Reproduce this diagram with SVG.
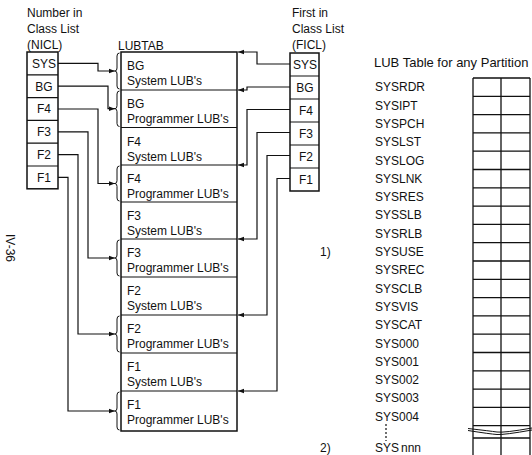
<svg xmlns="http://www.w3.org/2000/svg" width="532" height="455" viewBox="0 0 532 455">
<defs>
<style>
text{font-family:"Liberation Sans","DejaVu Sans",sans-serif;font-size:12px;fill:#111}
.box{fill:none;stroke:#111;stroke-width:1.5}
.ln{fill:none;stroke:#111;stroke-width:1.2}
.br{fill:none;stroke:#111;stroke-width:1}
.c{text-anchor:middle}
.g{fill:none;stroke:#111;stroke-width:1.3}
</style>
<marker id="ar" markerWidth="6" markerHeight="6" refX="6" refY="3" orient="auto" markerUnits="userSpaceOnUse">
<path d="M0,0.8 L6,3 L0,5.2 Z" fill="#111"/>
</marker>
</defs>
<rect width="532" height="455" fill="#fff"/>

<g id="nicl">
<text x="27" y="17">Number in</text>
<text x="27" y="33">Class List</text>
<text x="27" y="49">(NICL)</text>
<rect class="box" x="27" y="52" width="31" height="136.8"/>
<path class="ln" d="M27,74.8H58M27,97.6H58M27,120.4H58M27,143.2H58M27,166H58"/>
<text class="c" x="44" y="67.7">SYS</text>
<text class="c" x="44" y="90.5">BG</text>
<text class="c" x="44" y="113.3">F4</text>
<text class="c" x="44" y="136.1">F3</text>
<text class="c" x="44" y="158.9">F2</text>
<text class="c" x="44" y="181.7">F1</text>
</g>

<g id="ficl">
<text x="292" y="17">First in</text>
<text x="292" y="33">Class List</text>
<text x="292" y="49">(FICL)</text>
<rect class="box" x="290" y="53" width="29" height="138"/>
<path class="ln" d="M290,76H319M290,99H319M290,122H319M290,145H319M290,168H319"/>
<text class="c" x="305" y="68.8">SYS</text>
<text class="c" x="305" y="91.8">BG</text>
<text class="c" x="306" y="114.8">F4</text>
<text class="c" x="306" y="137.8">F3</text>
<text class="c" x="306" y="160.8">F2</text>
<text class="c" x="306" y="183.8">F1</text>
</g>

<g id="lubtab">
<text x="118" y="50">LUBTAB</text>
<rect class="box" x="121" y="52" width="116" height="379"/>
<path class="ln" d="M121,90H237M121,127.5H237M121,165H237M121,202H237M121,239H237M121,277H237M121,315H237M121,353H237M121,391H237"/>
<text x="127" y="70">BG</text><text x="127" y="85">System LUB's</text>
<text x="127" y="108">BG</text><text x="127" y="123">Programmer LUB's</text>
<text x="127" y="145.5">F4</text><text x="127" y="160.5">System LUB's</text>
<text x="127" y="183">F4</text><text x="127" y="198">Programmer LUB's</text>
<text x="127" y="220">F3</text><text x="127" y="235">System LUB's</text>
<text x="127" y="257">F3</text><text x="127" y="272">Programmer LUB's</text>
<text x="127" y="295">F2</text><text x="127" y="310">System LUB's</text>
<text x="127" y="333">F2</text><text x="127" y="348">Programmer LUB's</text>
<text x="127" y="371">F1</text><text x="127" y="386">System LUB's</text>
<text x="127" y="409">F1</text><text x="127" y="424">Programmer LUB's</text>
<path class="br" d="M119.5,53 q-2.5,0 -2.5,3 V68 q0,3 -2,3 q2,0 2,3 V86 q0,3 2.5,3"/>
<path class="br" d="M119.5,91 q-2.5,0 -2.5,3 V105.7 q0,3 -2,3 q2,0 2,3 V123.5 q0,3 2.5,3"/>
<path class="br" d="M119.5,166 q-2.5,0 -2.5,3 V180.5 q0,3 -2,3 q2,0 2,3 V198 q0,3 2.5,3"/>
<path class="br" d="M119.5,240 q-2.5,0 -2.5,3 V255 q0,3 -2,3 q2,0 2,3 V273 q0,3 2.5,3"/>
<path class="br" d="M119.5,316 q-2.5,0 -2.5,3 V331 q0,3 -2,3 q2,0 2,3 V349 q0,3 2.5,3"/>
<path class="br" d="M119.5,392 q-2.5,0 -2.5,3 V408 q0,3 -2,3 q2,0 2,3 V427 q0,3 2.5,3"/>
</g>

<g id="connectors">
<path class="ln" marker-end="url(#ar)" d="M58,63.4H98V71H115"/>
<path class="ln" marker-end="url(#ar)" d="M58,86.2H108V108.7H115"/>
<path class="ln" marker-end="url(#ar)" d="M58,109H98V183.5H115"/>
<path class="ln" marker-end="url(#ar)" d="M58,131.8H88V258H115"/>
<path class="ln" marker-end="url(#ar)" d="M58,154.6H78V334H115"/>
<path class="ln" marker-end="url(#ar)" d="M58,177.4H68V411H115"/>
<path class="ln" marker-end="url(#ar)" d="M290,64H257V52H238"/>
<path class="ln" marker-end="url(#ar)" d="M290,87H247V90H238"/>
<path class="ln" marker-end="url(#ar)" d="M290,109.5H247V165H238"/>
<path class="ln" marker-end="url(#ar)" d="M290,132.5H257V239H238"/>
<path class="ln" marker-end="url(#ar)" d="M290,155.5H267V315H238"/>
<path class="ln" marker-end="url(#ar)" d="M290,178.5H277V391H238"/>
</g>

<g id="pagenum">
<text transform="translate(6,234) rotate(90)">IV-36</text>
</g>

<g id="lubtable">
<text x="374" y="67" style="font-size:13px">LUB Table for any Partition</text>
<text x="375" y="91.3">SYSRDR</text>
<text x="375" y="109.6">SYSIPT</text>
<text x="375" y="127.9">SYSPCH</text>
<text x="375" y="146.2">SYSLST</text>
<text x="375" y="164.5">SYSLOG</text>
<text x="375" y="182.8">SYSLNK</text>
<text x="375" y="201.1">SYSRES</text>
<text x="375" y="219.4">SYSSLB</text>
<text x="375" y="237.7">SYSRLB</text>
<text x="320" y="256">1)</text>
<text x="375" y="256">SYSUSE</text>
<text x="375" y="274.3">SYSREC</text>
<text x="375" y="292.6">SYSCLB</text>
<text x="375" y="310.9">SYSVIS</text>
<text x="375" y="329.2">SYSCAT</text>
<text x="375" y="347.5">SYS000</text>
<text x="375" y="365.8">SYS001</text>
<text x="375" y="384.1">SYS002</text>
<text x="375" y="402.4">SYS003</text>
<text x="375" y="420.7">SYS004</text>
<text x="320" y="452">2)</text>
<text x="375" y="452">SYS</text>
<text x="401" y="452">nnn</text>
<path class="ln" stroke-dasharray="2,2" d="M386,424V441"/>
<path class="g" d="M473,78V455M501,78V455M530,78V455"/>
<path class="g" d="M473,78H530M473,96.3H530M473,114.6H530M473,132.9H530M473,151.2H530M473,169.5H530M473,187.8H530M473,206.1H530M473,224.4H530M473,242.7H530M473,261H530M473,279.3H530M473,297.6H530M473,315.9H530M473,334.2H530M473,352.5H530M473,370.8H530M473,389.1H530M473,407.4H530M473,425.7H530M473,438H530"/>
<path class="br" d="M468,428.5 Q490,431 497,432 T532,428"/>
<path class="br" d="M468,430.5 Q490,434 497,434.5 T532,430"/>
</g>
</svg>
